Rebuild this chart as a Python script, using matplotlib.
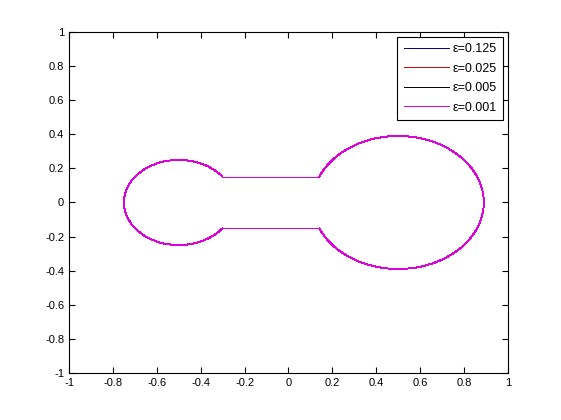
import numpy as np
import matplotlib
matplotlib.use('Agg')
import matplotlib.pyplot as plt
from matplotlib.patches import Arc

# parametres de la forme (deux disques relies par un canal)
eps_values = [0.125, 0.025, 0.005, 0.001]
eps_colors = ['#00007f', '#cc0000', 'black', '#df00df']
left_center = (-0.5, 0.0)
left_radius = 0.25
right_center = (0.5, 0.0)
right_radius = 0.39
channel_half = 0.15
ticks = [-1, -0.8, -0.6, -0.4, -0.2, 0, 0.2, 0.4, 0.6, 0.8, 1]
tick_labels = ['-1', '-0.8', '-0.6', '-0.4', '-0.2', '0', '0.2', '0.4', '0.6', '0.8', '1']

plt.rcParams['font.family'] = ['Liberation Sans', 'DejaVu Sans']

fig = plt.figure(figsize=(5.61, 4.2), dpi=100)
ax = fig.add_axes([0.123, 0.112, 0.7825, 0.8118])

# angles ou le canal rejoint les cercles
aL = np.degrees(np.arcsin(channel_half / left_radius))
aR = np.degrees(np.arcsin(channel_half / right_radius))
xL = left_center[0] + np.sqrt(left_radius**2 - channel_half**2)
xR = right_center[0] - np.sqrt(right_radius**2 - channel_half**2)

lw = 0.7
for eps, c in zip(eps_values, eps_colors):
    ax.add_patch(Arc(left_center, 2 * left_radius, 2 * left_radius,
                     theta1=aL, theta2=360 - aL, color=c, lw=lw, antialiased=False))
    ax.add_patch(Arc(right_center, 2 * right_radius, 2 * right_radius,
                     theta1=-(180 - aR), theta2=180 - aR, color=c, lw=lw, antialiased=False))
    ax.plot([xL, xR], [channel_half, channel_half], color=c, lw=lw,
            label='ε=%g' % eps, antialiased=False)
    ax.plot([xL, xR], [-channel_half, -channel_half], color=c, lw=lw, antialiased=False)

ax.set_xlim(-1, 1)
ax.set_ylim(-1, 1)
ax.set_xticks(ticks)
ax.set_xticklabels(tick_labels)
ax.set_yticks(ticks)
ax.set_yticklabels(tick_labels)
ax.tick_params(direction='in', top=True, right=True, labelsize=8, length=4)

leg = ax.legend(loc='upper right', fontsize=9, fancybox=False, framealpha=1,
                edgecolor='black', handlelength=3.6, handletextpad=0.3,
                labelspacing=0.6, borderaxespad=0.4, borderpad=0.5)
leg.get_frame().set_linewidth(0.8)

fig.savefig('out.png', dpi=100)
